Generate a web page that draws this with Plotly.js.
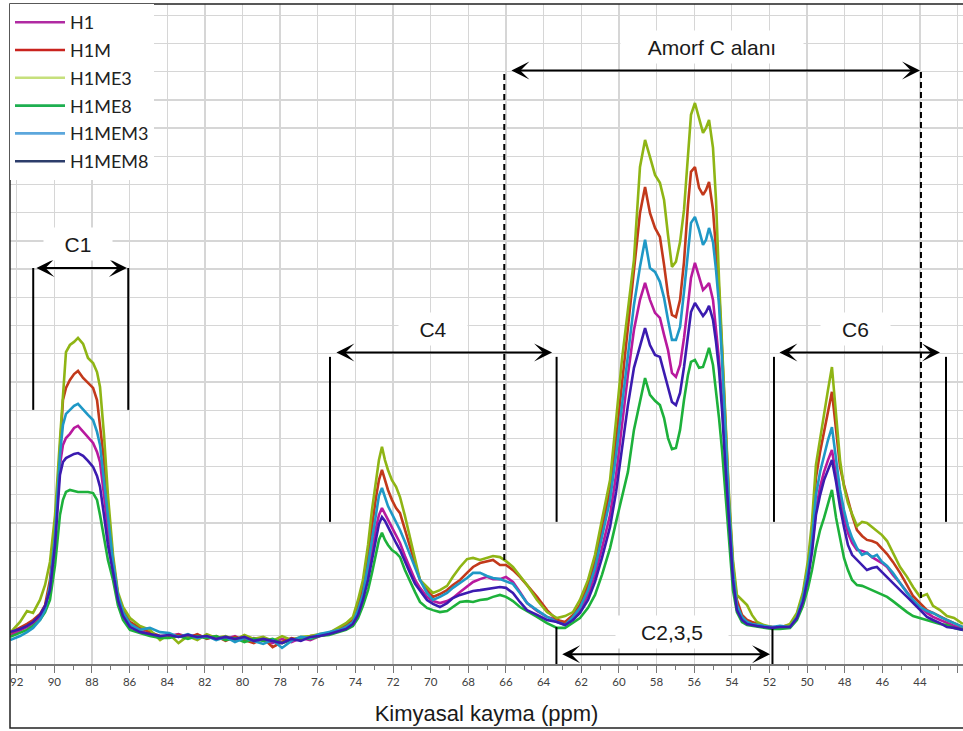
<!DOCTYPE html>
<html>
<head>
<meta charset="utf-8">
<script src="https://cdn.plot.ly/plotly-3.0.1.min.js"></script>
<style>
  html, body { margin: 0; padding: 0; background: #fff; }
  #chart { width: 963px; height: 731px; }
</style>
</head>
<body>
<div id="chart"></div>
<script>
// Chemical shift axis (ppm), shared by every spectrum
const ppm = [
  // C1 region
  92.35, 91.82, 91.45, 91.13, 90.76, 90.49, 90.23, 89.96, 89.70, 89.54, 89.38, 89.17, 88.95, 88.74,
  88.47, 88.21, 87.94, 87.73, 87.57, 87.36, 87.15, 86.88, 86.62, 86.35, 85.98, 85.45, 84.92, 84.38,
  // baseline
  83.9, 83.4, 82.9, 82.4, 81.9, 81.4, 80.9, 80.4, 79.9, 79.4, 78.9, 78.4, 77.9, 77.4, 76.9, 76.4, 75.9, 75.4,
  // C4 region
  74.82, 74.50, 74.13, 73.86, 73.60, 73.33, 73.12, 72.91, 72.75, 72.59, 72.43, 72.27, 72.06, 71.84,
  71.63, 71.37, 71.10, 70.83, 70.57, 70.20, 69.88, 69.51, 69.13, 68.82, 68.44, 68.07, 67.75, 67.38,
  67.01, 66.69, 66.32, 66.00, 65.63, 65.26, 64.88, 64.35, 63.82, 63.29, 62.86,
  // C2,3,5 region
  62.44, 62.07, 61.64, 61.27, 60.90, 60.47, 60.15, 59.84, 59.52, 59.20, 58.88, 58.61, 58.35, 58.08,
  57.82, 57.60, 57.39, 57.18, 56.97, 56.75, 56.54, 56.33, 56.17, 55.96, 55.74, 55.53, 55.37, 55.21,
  55.00, 54.84, 54.68, 54.52, 54.36, 54.15, 53.94, 53.73, 53.46, 53.19, 52.93, 52.66, 52.29, 51.87,
  // C6 region
  51.44, 50.91, 50.54, 50.22, 49.95, 49.74, 49.53, 49.31, 49.10, 48.89, 48.68, 48.46, 48.25, 48.04,
  47.83, 47.61, 47.35, 47.08, 46.82, 46.55, 46.29, 46.02, 45.75, 45.44, 45.06, 44.69, 44.37, 44.00,
  43.63, 43.31, 42.94, 42.57, 42.19, 41.72
];

// Intensities (arbitrary units)
const H1 = [
  1.03, 1.21, 1.31, 1.45, 1.67, 1.99, 2.70, 4.40, 7.06, 7.77, 8.01, 8.16, 8.37, 8.44,
  8.23, 8.01, 7.84, 7.52, 7.16, 5.99, 4.75, 3.44, 2.34, 1.77, 1.38, 1.17, 1.06, 0.96,
  0.99, 1.06, 0.96, 1.03, 0.92, 0.96, 0.89, 0.99, 0.82, 0.92, 0.85, 0.74, 0.89, 0.78, 0.92, 0.85, 0.99, 1.06,
  1.21, 1.28, 1.45, 1.81, 2.34, 3.16, 3.97, 4.82, 5.28, 5.53, 5.32, 5.11, 4.82, 4.54,
  4.29, 3.83, 3.37, 2.98, 2.70, 2.38, 2.23, 2.16, 2.23, 2.34, 2.55, 2.73, 2.91, 3.01,
  3.09, 3.01, 3.01, 3.09, 2.91, 2.55, 2.16, 1.88, 1.67, 1.56, 1.42,
  1.63, 1.91, 2.45, 3.16, 4.11, 5.28, 6.70, 8.48, 10.25, 11.84, 12.91, 13.51, 12.91, 12.45,
  12.27, 11.67, 11.13, 10.32, 10.18, 10.60, 11.56, 12.73, 13.69, 14.22, 13.69, 13.26, 13.37, 13.51,
  12.91, 11.84, 10.78, 9.36, 7.59, 5.28, 3.16, 2.02, 1.63, 1.49, 1.42, 1.38, 1.35, 1.31,
  1.28, 1.35, 1.67, 2.27, 3.16, 4.11, 5.46, 6.28, 6.81, 7.23, 7.59, 6.70, 5.82, 5.21,
  4.65, 4.29, 4.04, 4.01, 3.94, 3.79, 3.69, 3.58, 3.44, 3.16, 2.87, 2.55, 2.27, 2.02,
  1.81, 1.67, 1.56, 1.45, 1.35, 1.24
];
const H1M = [
  1.10, 1.28, 1.42, 1.56, 1.77, 2.09, 2.98, 4.75, 7.77, 9.36, 9.79, 10.07, 10.28, 10.39,
  10.14, 9.96, 9.79, 9.36, 8.48, 7.23, 5.46, 3.69, 2.45, 1.91, 1.49, 1.28, 1.13, 0.99,
  0.99, 1.03, 0.92, 1.06, 0.89, 0.99, 0.82, 0.96, 0.85, 0.74, 0.92, 0.60, 0.78, 0.92, 0.85, 0.99, 1.03, 1.10,
  1.28, 1.38, 1.56, 2.09, 2.70, 3.87, 4.86, 5.89, 6.52, 6.88, 6.52, 6.17, 5.82, 5.53,
  5.35, 4.75, 4.15, 3.51, 2.98, 2.62, 2.38, 2.48, 2.62, 2.80, 2.98, 3.23, 3.44, 3.58,
  3.65, 3.69, 3.51, 3.51, 3.33, 3.09, 2.80, 2.38, 1.91, 1.56, 1.49,
  1.74, 2.09, 2.80, 3.62, 4.75, 6.17, 7.94, 9.89, 11.84, 13.97, 15.99, 16.91, 15.99, 15.46,
  15.14, 14.15, 13.09, 12.38, 12.30, 12.91, 14.26, 16.28, 17.45, 17.62, 16.88, 16.63, 16.81, 17.09,
  16.10, 14.68, 13.26, 11.13, 8.65, 5.82, 3.51, 2.27, 1.74, 1.56, 1.49, 1.42, 1.35, 1.28,
  1.31, 1.38, 1.74, 2.45, 3.51, 4.75, 6.60, 7.52, 8.23, 9.01, 9.65, 8.30, 6.99, 6.35,
  5.82, 5.28, 4.75, 4.54, 4.40, 4.36, 4.29, 4.11, 3.90, 3.62, 3.23, 2.80, 2.41, 2.16,
  1.91, 1.81, 1.67, 1.56, 1.45, 1.31
];
const H1ME3 = [
  1.10, 1.49, 1.88, 1.81, 2.27, 2.80, 3.62, 5.28, 7.94, 9.54, 11.06, 11.31, 11.42, 11.56,
  11.35, 10.85, 10.67, 10.35, 9.82, 8.12, 5.99, 3.87, 2.55, 2.02, 1.63, 1.35, 1.21, 0.85,
  1.06, 0.74, 0.99, 0.85, 1.06, 0.92, 0.99, 0.85, 1.03, 0.89, 0.96, 0.82, 0.99, 0.85, 0.96, 0.99, 1.06, 1.10,
  1.31, 1.45, 1.67, 2.27, 2.98, 4.22, 5.46, 6.52, 7.23, 7.70, 7.23, 6.88, 6.52, 6.28,
  5.92, 5.25, 4.50, 3.69, 2.98, 2.73, 2.52, 2.62, 2.77, 3.09, 3.44, 3.72, 3.76, 3.69,
  3.76, 3.83, 3.79, 3.65, 3.44, 3.12, 2.80, 2.27, 1.84, 1.63, 1.70,
  1.84, 2.27, 2.98, 3.87, 5.11, 6.52, 8.65, 10.78, 12.55, 14.33, 17.62, 18.58, 17.98, 17.34,
  17.06, 16.45, 15.21, 14.08, 14.26, 14.96, 16.10, 17.87, 19.47, 19.89, 19.36, 18.83, 19.01, 19.29,
  18.30, 16.45, 13.62, 11.13, 8.65, 5.99, 3.69, 2.45, 2.27, 2.09, 1.74, 1.49, 1.38, 1.31,
  1.28, 1.42, 1.81, 2.55, 3.69, 5.04, 7.06, 8.01, 8.83, 9.72, 10.53, 8.83, 7.23, 6.28,
  5.71, 5.32, 4.89, 5.04, 5.00, 4.86, 4.72, 4.57, 4.36, 3.97, 3.44, 3.09, 2.73, 2.38,
  2.48, 2.06, 1.91, 1.70, 1.63, 1.42
];
const H1ME8 = [
  0.96, 1.10, 1.21, 1.35, 1.56, 1.84, 2.27, 3.51, 5.28, 5.82, 6.10, 6.17, 6.13, 6.10,
  6.10, 6.10, 6.06, 5.82, 5.28, 4.40, 3.69, 2.98, 2.09, 1.56, 1.21, 1.10, 0.99, 0.92,
  0.92, 0.99, 0.89, 0.99, 0.92, 0.99, 0.85, 0.92, 0.78, 0.89, 0.82, 0.89, 0.74, 0.85, 0.92, 0.89, 0.99, 1.03,
  1.13, 1.21, 1.35, 1.63, 2.06, 2.62, 3.23, 3.97, 4.40, 4.65, 4.40, 4.22, 4.04, 3.94,
  3.79, 3.33, 2.91, 2.55, 2.20, 1.99, 1.91, 1.84, 1.88, 2.02, 2.20, 2.23, 2.20, 2.27,
  2.30, 2.38, 2.45, 2.38, 2.23, 2.02, 1.88, 1.67, 1.45, 1.28, 1.28,
  1.45, 1.63, 1.99, 2.45, 3.16, 4.11, 5.04, 5.89, 6.81, 8.30, 9.36, 10.14, 9.54, 9.33,
  9.18, 8.72, 8.01, 7.62, 7.66, 8.30, 9.36, 10.25, 10.71, 10.78, 10.50, 10.53, 10.85, 11.21,
  10.60, 9.72, 8.72, 7.59, 6.17, 4.22, 2.62, 1.84, 1.49, 1.38, 1.35, 1.31, 1.28, 1.24,
  1.24, 1.28, 1.56, 2.06, 2.70, 3.33, 4.11, 4.75, 5.18, 5.64, 6.17, 5.18, 4.40, 3.76,
  3.33, 2.98, 2.80, 2.77, 2.70, 2.62, 2.55, 2.45, 2.38, 2.23, 2.02, 1.84, 1.70, 1.63,
  1.56, 1.49, 1.42, 1.38, 1.28, 1.21
];
const H1MEM3 = [
  0.85, 0.99, 1.13, 1.28, 1.56, 1.91, 2.80, 4.57, 7.41, 8.48, 8.87, 9.01, 9.15, 9.22,
  9.01, 8.83, 8.65, 8.23, 7.77, 6.52, 5.11, 3.62, 2.45, 1.84, 1.42, 1.21, 1.28, 1.13,
  1.10, 0.96, 1.06, 0.92, 0.99, 0.85, 0.96, 0.78, 0.92, 0.82, 0.71, 0.85, 0.57, 0.82, 0.96, 0.92, 1.06, 1.13,
  1.21, 1.31, 1.49, 1.91, 2.48, 3.51, 4.40, 5.39, 5.96, 6.24, 5.89, 5.60, 5.32, 5.04,
  4.75, 4.33, 3.87, 3.40, 2.98, 2.52, 2.27, 2.38, 2.52, 2.70, 2.87, 3.05, 3.23, 3.23,
  3.12, 3.05, 3.01, 2.94, 2.84, 2.52, 2.16, 1.91, 1.67, 1.49, 1.38,
  1.67, 1.99, 2.62, 3.40, 4.50, 5.82, 7.41, 9.18, 10.96, 12.73, 14.08, 15.04, 14.04, 13.90,
  13.55, 12.98, 12.20, 11.49, 11.49, 11.95, 13.19, 14.68, 15.64, 15.85, 15.39, 14.86, 15.04, 15.46,
  14.96, 13.97, 12.73, 10.78, 8.30, 5.64, 3.33, 2.09, 1.67, 1.49, 1.42, 1.38, 1.35, 1.31,
  1.35, 1.31, 1.67, 2.34, 3.33, 4.40, 5.99, 6.81, 7.41, 7.94, 8.40, 7.30, 6.17, 5.46,
  4.89, 4.47, 4.11, 3.87, 3.94, 3.79, 3.87, 3.62, 3.48, 3.23, 2.87, 2.52, 2.27, 2.02,
  1.88, 1.81, 1.67, 1.56, 1.45, 1.31
];
const H1MEM8 = [
  1.13, 1.24, 1.35, 1.49, 1.74, 2.06, 2.62, 4.22, 6.70, 7.16, 7.30, 7.38, 7.45, 7.48,
  7.38, 7.20, 6.99, 6.67, 6.28, 5.28, 4.22, 3.26, 2.27, 1.70, 1.31, 1.13, 1.06, 0.99,
  1.03, 0.96, 1.03, 0.96, 0.99, 0.89, 0.96, 0.89, 0.96, 0.82, 0.89, 0.82, 0.74, 0.89, 0.82, 0.96, 0.99, 1.06,
  1.17, 1.24, 1.42, 1.74, 2.27, 2.98, 3.69, 4.47, 4.96, 5.21, 5.07, 4.86, 4.57, 4.29,
  4.04, 3.62, 3.23, 2.84, 2.59, 2.27, 2.13, 2.02, 2.16, 2.34, 2.45, 2.52, 2.59, 2.62,
  2.66, 2.70, 2.73, 2.70, 2.52, 2.20, 1.91, 1.74, 1.56, 1.49, 1.38,
  1.56, 1.81, 2.27, 2.91, 3.76, 4.86, 6.10, 7.59, 9.18, 10.50, 11.31, 11.91, 11.31, 10.96,
  10.89, 10.35, 9.79, 9.29, 9.18, 9.61, 10.53, 11.67, 12.48, 12.80, 12.55, 12.34, 12.48, 12.70,
  12.20, 11.42, 10.43, 9.01, 7.23, 4.93, 2.98, 1.91, 1.56, 1.42, 1.38, 1.35, 1.31, 1.28,
  1.31, 1.31, 1.63, 2.20, 3.05, 3.97, 5.28, 5.99, 6.52, 6.88, 7.23, 6.45, 5.57, 4.86,
  4.22, 3.87, 3.69, 3.51, 3.33, 3.40, 3.44, 3.26, 3.09, 2.87, 2.62, 2.38, 2.16, 1.91,
  1.67, 1.56, 1.45, 1.31, 1.28, 1.21
];

const seriesNames = ['H1', 'H1M', 'H1ME3', 'H1ME8', 'H1MEM3', 'H1MEM8'];
const seriesValues = [H1, H1M, H1ME3, H1ME8, H1MEM3, H1MEM8];
const lineColors = ['#B8199E', '#C2391B', '#8FB515', '#1DB13B', '#1F98C6', '#3B1BB0'];
const legendColors = ['#B02AA2', '#C9231E', '#C6E07C', '#1EAF50', '#5CA7DC', '#2C3D6B'];

const traces = [];
seriesNames.forEach((name, i) => {
  traces.push({
    x: ppm, y: seriesValues[i], type: 'scatter', mode: 'lines', name: name,
    line: { color: lineColors[i], width: 2.6 }, showlegend: false, hoverinfo: 'skip'
  });
});
// legend swatches
seriesNames.forEach((name, i) => {
  traces.push({
    x: [null], y: [null], type: 'scatter', mode: 'lines', name: name,
    legendgroup: name, line: { color: legendColors[i], width: 2.6 }, showlegend: true
  });
});

const labelFont = { family: 'Liberation Sans, Arial, sans-serif', size: 21, color: '#1a1a1a' };
const blk = { color: '#000', width: 2 };
const dashed = { color: '#000', width: 2, dash: '6px,4px' };

function vline(x, y0, y1, line) {
  return { type: 'line', xref: 'x', yref: 'y', x0: x, x1: x, y0: y0, y1: y1, line: line, layer: 'above' };
}
function span(x0, x1, y) {
  return {
    x: x1, y: y, ax: x0, ay: y, xref: 'x', yref: 'y', axref: 'x', ayref: 'y', text: '',
    showarrow: true, arrowside: 'end+start', arrowhead: 3, startarrowhead: 3,
    arrowsize: 1.5, startarrowsize: 1.5, arrowwidth: 2, arrowcolor: '#000', standoff: 0, startstandoff: 0
  };
}
function label(x, y, text, w) {
  return {
    x: x, y: y, xref: 'x', yref: 'y', text: text, showarrow: false, font: labelFont,
    bgcolor: '#ffffff', width: w, height: 30, xanchor: 'center', yanchor: 'middle'
  };
}

const shapes = [
  // chart frame
  { type: 'rect', xref: 'paper', yref: 'paper', x0: 0, x1: 1.05, y0: -0.097, y1: 1,
    line: { color: '#222', width: 1.5 }, layer: 'above' },
  // C1
  vline(91.12, 9.01, 14.04, blk), vline(86.07, 9.01, 14.04, blk),
  // C4
  vline(75.35, 5.04, 10.89, blk), vline(63.31, 5.04, 10.89, blk),
  // C6
  vline(51.76, 5.04, 10.89, blk), vline(42.62, 5.04, 10.89, blk),
  // C2,3,5
  vline(63.32, 0, 1.31, blk), vline(51.84, 0, 1.24, blk),
  // amorphous region
  vline(66.09, 3.69, 21.04, dashed), vline(43.95, 2.34, 21.04, dashed)
];

const annotations = [
  span(91.03, 86.14, 14.04),
  span(75.09, 63.55, 11.04),
  span(51.55, 42.94, 11.04),
  span(65.79, 44.00, 21.04),
  span(63.09, 51.97, 0.35),
  label(88.74, 14.89, 'C1', 66),
  label(69.88, 11.88, 'C4', 66),
  label(47.43, 11.86, 'C6', 67),
  label(55.05, 21.89, 'Amorf C alanı', 180),
  label(57.18, 1.13, 'C2,3,5', 110)
];

const layout = {
  width: 963, height: 731,
  margin: { l: 10, r: 0, t: 4, b: 67 },
  paper_bgcolor: '#ffffff', plot_bgcolor: '#ffffff',
  font: { family: 'Liberation Sans, Arial, sans-serif' },
  xaxis: {
    range: [92.354, 41.716], dtick: 2, tick0: 0,
    ticks: 'outside', ticklen: 7, tickwidth: 1, tickcolor: '#777',
    minor: { dtick: 1, ticks: 'outside', ticklen: 4, tickcolor: '#777',
             showgrid: false, gridcolor: 'rgba(0,0,0,0)' },
    showgrid: true, gridcolor: '#d6d6d6', gridwidth: 1.3,
    showline: true, linecolor: '#777', linewidth: 1.5,
    zeroline: false,
    tickfont: { family: 'Lato, sans-serif', size: 11.5, color: '#404040' },
    title: { text: 'Kimyasal kayma (ppm)', standoff: 18,
             font: { family: 'Liberation Sans, Arial, sans-serif', size: 22, color: '#1a1a1a' } }
  },
  yaxis: {
    range: [0, 23.40], dtick: 1, tick0: 0,
    showticklabels: false, ticks: '',
    showgrid: true, gridcolor: '#d6d6d6', gridwidth: 1.3,
    zeroline: false, showline: false
  },
  showlegend: true,
  legend: {
    x: 0, y: 1, xanchor: 'left', yanchor: 'top',
    bgcolor: '#ffffff', borderwidth: 0,
    font: { family: 'Lato, sans-serif', size: 18, color: '#222' },
    itemwidth: 50, tracegroupgap: 1.4, traceorder: 'grouped'
  },
  shapes: shapes,
  annotations: annotations
};

Plotly.newPlot('chart', traces, layout, { displayModeBar: false, staticPlot: true });
</script>
</body>
</html>
